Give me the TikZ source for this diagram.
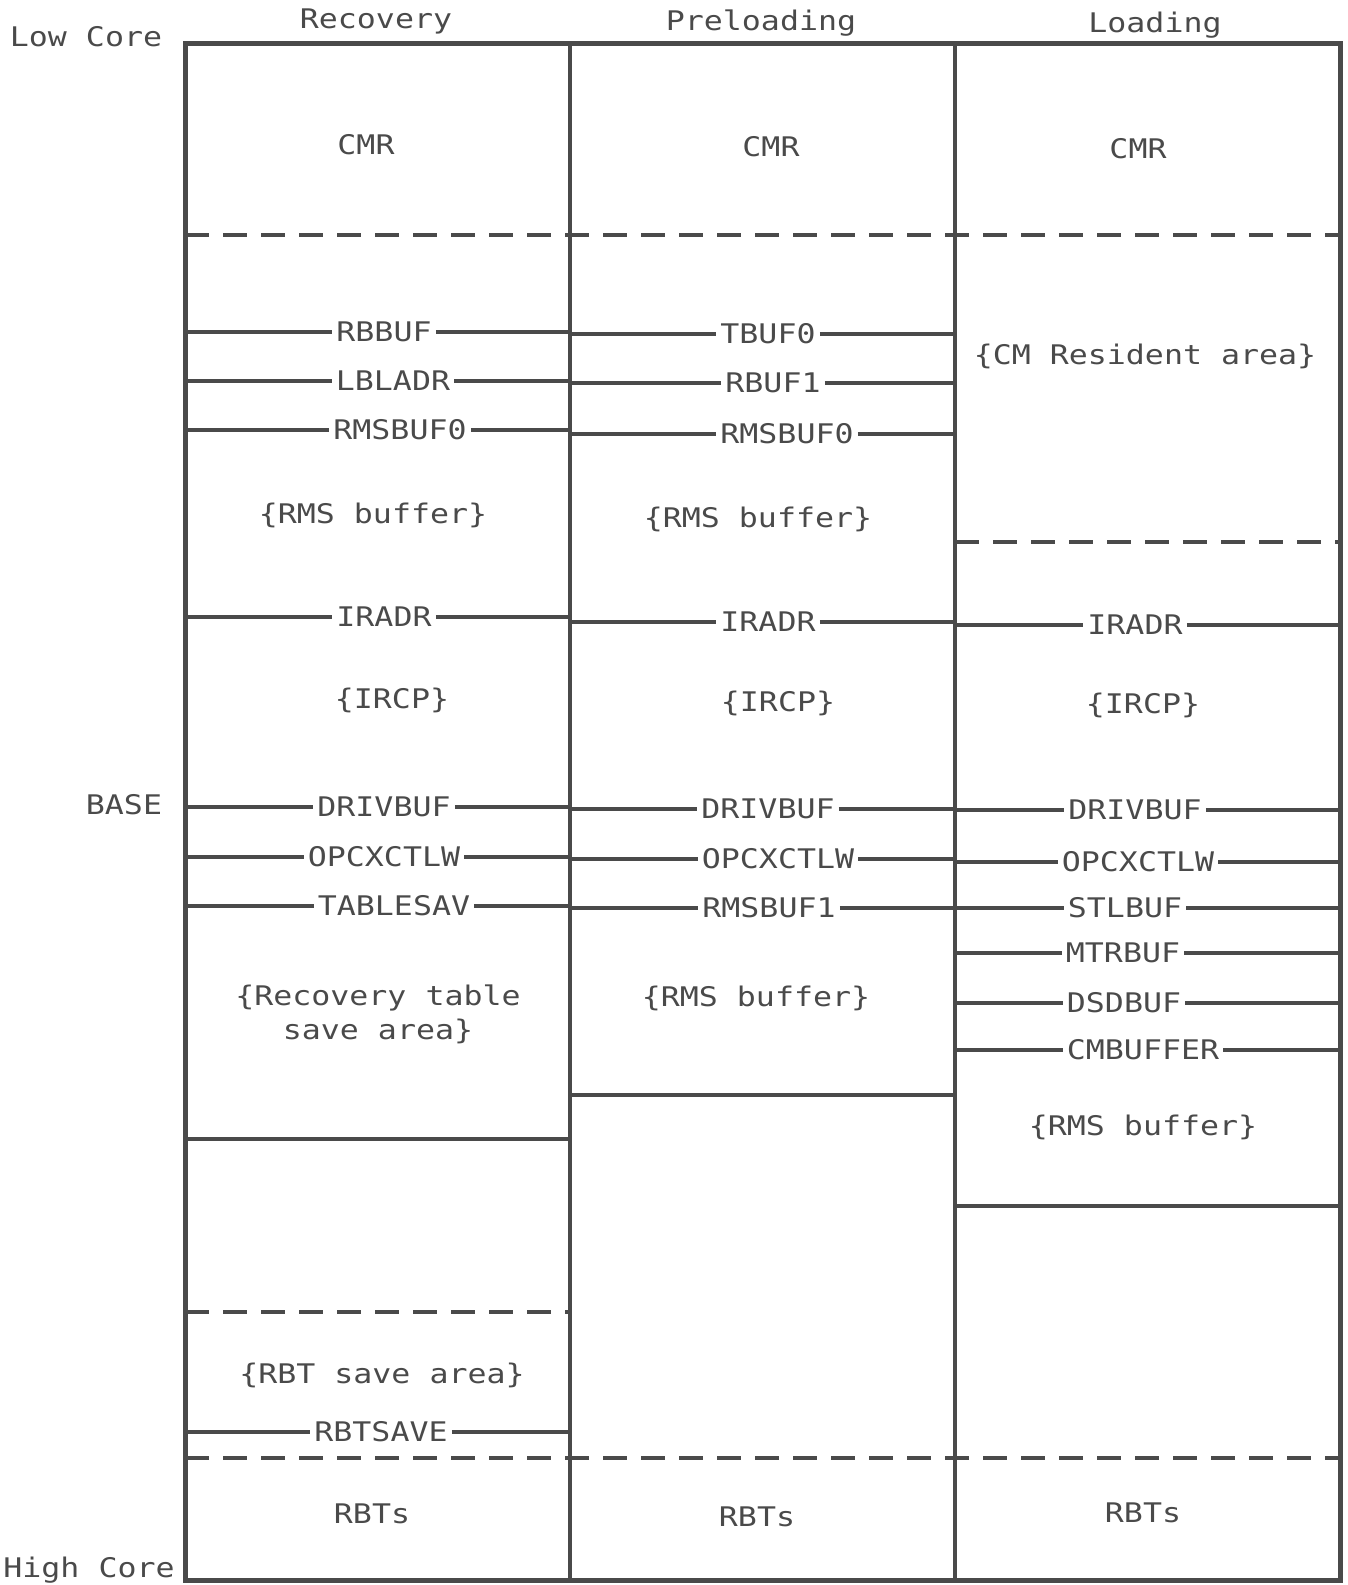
\documentclass[tikz,border=0pt]{standalone}
\usepackage{fontspec}
\newfontfamily\plotfont[FakeStretch=1.17]{DejaVu Sans Mono}
\definecolor{ink}{HTML}{4A4A4A}
\begin{document}
\begin{tikzpicture}[x=1pt,y=-1pt,
  txt/.style={font=\plotfont\fontsize{27}{34}\selectfont, text=ink, inner sep=0pt},
  lab/.style={txt, inner xsep=4pt},
  frame/.style={draw=ink, line width=5pt},
  divl/.style={draw=ink, line width=4pt},
  hl/.style={draw=ink, line width=3.5pt},
  dl/.style={draw=ink, line width=4pt, dash pattern=on 24pt off 14pt}]
\useasboundingbox (0,0) rectangle (1347,1585);
% column edge coordinates
\coordinate (c0) at (185,0);
\coordinate (c1) at (570,0);
\coordinate (c2) at (955,0);
\coordinate (c3) at (1340,0);
% outside labels
\node[txt] (lowcore) at (86,37) {Low Core};
\node[txt] (highcore) at (89,1570) {High Core};
\node[txt] (base) at (124,805) {BASE};
\node[txt] (hrec) at (376,21) {Recovery};
\node[txt] (hpre) at (761,23) {Preloading};
\node[txt] (hload) at (1155,25) {Loading};
% dashed separators
\coordinate (dtl) at (185,235); \coordinate (dtr) at (1340,235);
\draw[dl] (dtl) -- (dtr);
\coordinate (dbl) at (185,1458); \coordinate (dbr) at (1340,1458);
\draw[dl] (dbl) -- (dbr);
\coordinate (d3l) at (955,542); \coordinate (d3r) at (1340,542);
\draw[dl] (d3l) -- (d3r);
\coordinate (d1l) at (185,1312); \coordinate (d1r) at (570,1312);
\draw[dl] (d1l) -- (d1r);
% solid separators
\coordinate (s1l) at (185,1139); \coordinate (s1r) at (570,1139);
\draw[hl] (s1l) -- (s1r);
\coordinate (s2l) at (570,1095); \coordinate (s2r) at (955,1095);
\draw[hl] (s2l) -- (s2r);
\coordinate (s3l) at (955,1206); \coordinate (s3r) at (1340,1206);
\draw[hl] (s3l) -- (s3r);
% area texts
\node[txt] (cmr1) at (366,145) {CMR};
\node[txt] (cmr2) at (771,147) {CMR};
\node[txt] (cmr3) at (1138,149) {CMR};
\node[txt] (cmres) at (1145,356) {\{CM Resident area\}};
\node[txt] (rms1) at (373,515) {\{RMS buffer\}};
\node[txt] (rms2) at (758,519) {\{RMS buffer\}};
\node[txt] (ircp1) at (392,700) {\{IRCP\}};
\node[txt] (ircp2) at (778,703) {\{IRCP\}};
\node[txt] (ircp3) at (1143,705) {\{IRCP\}};
\node[txt, align=center] (rectab) at (378,1014) {\{Recovery table\\save area\}};
\node[txt] (rms3) at (756,998) {\{RMS buffer\}};
\node[txt] (rms4) at (1143,1127) {\{RMS buffer\}};
\node[txt] (rbtsa) at (382,1375) {\{RBT save area\}};
\node[txt] (rbts1) at (372,1514) {RBTs};
\node[txt] (rbts2) at (757,1517) {RBTs};
\node[txt] (rbts3) at (1143,1513) {RBTs};
% labelled lines
\newcommand{\lline}[5]{% name, x, y, text, left edge, right edge
}
\foreach \nm/\xx/\yy/\tt/\le/\re in {
  rbbuf/384/332/RBBUF/c0/c1,
  lbladr/393/381/LBLADR/c0/c1,
  rmsbufa/400/430/RMSBUF0/c0/c1,
  tbufa/768/334/TBUF0/c1/c2,
  rbufb/773/383/RBUF1/c1/c2,
  rmsbufb/787/434/RMSBUF0/c1/c2,
  iradra/384/617/IRADR/c0/c1,
  iradrb/768/622/IRADR/c1/c2,
  iradrc/1135/625/IRADR/c2/c3,
  driva/384/807/DRIVBUF/c0/c1,
  drivb/768/809/DRIVBUF/c1/c2,
  drivc/1135/810/DRIVBUF/c2/c3,
  opca/384/857/OPCXCTLW/c0/c1,
  opcb/778/859/OPCXCTLW/c1/c2,
  opcc/1138/862/OPCXCTLW/c2/c3,
  tabsav/394/906/TABLESAV/c0/c1,
  rmsbufc/769/908/RMSBUF1/c1/c2,
  stlbuf/1125/908/STLBUF/c2/c3,
  mtrbuf/1123/953/MTRBUF/c2/c3,
  dsdbuf/1124/1003/DSDBUF/c2/c3,
  cmbuffer/1143/1050/CMBUFFER/c2/c3,
  rbtsave/381/1432/RBTSAVE/c0/c1}{
  \node[lab] (\nm) at (\xx,\yy) {\tt};
  \draw[hl] (\le |- \nm) -- (\nm.west);
  \draw[hl] (\nm.east) -- (\re |- \nm);
}
% column dividers and frame
\coordinate (t1) at (570,43); \coordinate (b1) at (570,1580);
\coordinate (t2) at (955,43); \coordinate (b2) at (955,1580);
\draw[divl] (t1) -- (b1);
\draw[divl] (t2) -- (b2);
\coordinate (ftl) at (185,43); \coordinate (fbr) at (1340,1580);
\draw[frame] (ftl) rectangle (fbr);
\end{tikzpicture}
\end{document}
